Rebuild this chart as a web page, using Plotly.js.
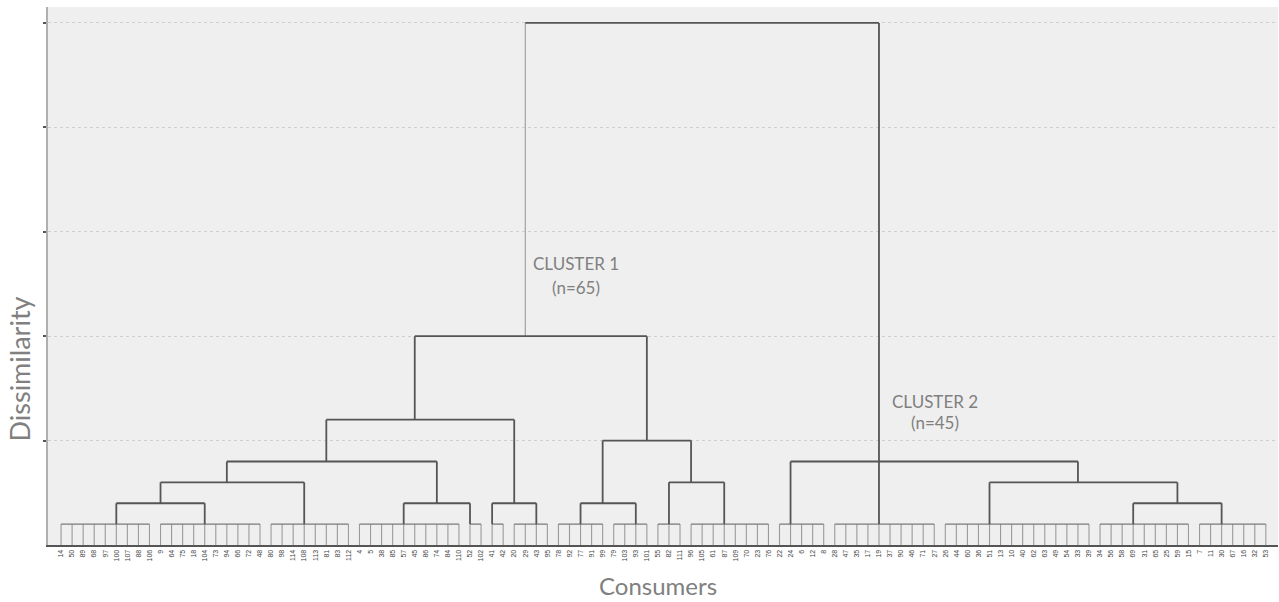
<!DOCTYPE html>
<html>
<head>
<meta charset="utf-8">
<script src="https://cdn.plot.ly/plotly-3.0.1.min.js"></script>
<style>html,body{margin:0;padding:0;background:#fff;}#chart{width:1279px;height:602px;}</style>
</head>
<body>
<div id="chart"></div>
<script>
// Leaf order (consumers) as read along the x axis
const leafLabels = [
  "14","50","89","68","97","100","107","88","106",
  "9","64","75","18","104","73","94","66","72","48",
  "80","98","114","108","113","81","83","112",
  "4","5","38","85","57","45","86","74","84","110",
  "52","102",
  "41","42",
  "20","29","43","95",
  "78","92","77","91","99",
  "79","103","93","101",
  "55","82","111",
  "96","105","61","87","109","70","23","76",
  "22","24","6","12","8",
  "28","47","35","17","19","37","90","46","71","27",
  "26","44","60","36","51","13","10","40","62","63","49","54","33","39",
  "34","56","58","69","31","65","25","59","15",
  "7","11","30","67","16","32","53"
];

// Low-level groups (collapsed at dissimilarity 0.2): number of consumers in each, in order
const groupSizes = [9,10,8,10,2,2,4,5,4,3,8,5,10,14,9,7];
// Consumer under which each group's link rises
const groupRoot  = ["100","104","108","57","52","41","43","77","93","82","87","24","19","51","69","30"];
const groupHeight = 0.2;

// Merges: children are node ids (groups 0..15, then merges 16..)
const mergeChildren = [
  [0,1],      // 16
  [16,2],     // 17
  [3,4],      // 18
  [17,18],    // 19
  [5,6],      // 20
  [19,20],    // 21
  [7,8],      // 22
  [9,10],     // 23
  [22,23],    // 24
  [21,24],    // 25  cluster 1
  [14,15],    // 26
  [13,26],    // 27
  [11,12,27], // 28  cluster 2
  [25,28]     // 29  root
];
const mergeHeights = [0.4,0.6,0.4,0.8,0.4,1.2,0.4,0.6,1.0,2.0,0.4,0.6,0.8,5.0];

const clusterNames = ["CLUSTER 1","CLUSTER 2"];
const clusterSizes = [65,45];

// ---------- build segments ----------
const nodeX = [], nodeH = [];
const leafSeg = {x:[],y:[]}, groupSeg = {x:[],y:[]}, linkSeg = {x:[],y:[]}, thinSeg = {x:[],y:[]};
function seg(s,x0,y0,x1,y1){ s.x.push(x0,x1,null); s.y.push(y0,y1,null); }

let start = 0;
groupSizes.forEach((n,g)=>{
  const end = start+n-1;
  for(let i=start;i<=end;i++) seg(leafSeg,i,0,i,groupHeight);
  seg(groupSeg,start,groupHeight,end,groupHeight);
  nodeX.push(leafLabels.indexOf(groupRoot[g]));
  nodeH.push(groupHeight);
  start = end+1;
});
mergeChildren.forEach((ch,m)=>{
  const h = mergeHeights[m];
  const xs = ch.map(c=>nodeX[c]);
  const lo = Math.min(...xs), hi = Math.max(...xs);
  const isRoot = (m===mergeChildren.length-1);
  seg(linkSeg,lo,h,hi,h);
  ch.forEach((c,k)=>{
    const target = (isRoot && k===0) ? thinSeg : linkSeg;
    seg(target,nodeX[c],nodeH[c],nodeX[c],h);
  });
  let ax;
  if(ch.length===2) ax = Math.floor((xs[0]+xs[1])/2);
  else ax = xs[1];
  nodeX.push(ax); nodeH.push(h);
});

const traces = [
  {x:leafSeg.x,y:leafSeg.y,mode:'lines',line:{color:'#9a9a9a',width:1.1},hoverinfo:'skip'},
  {x:groupSeg.x,y:groupSeg.y,mode:'lines',line:{color:'#7a7a7a',width:1.3},hoverinfo:'skip'},
  {x:thinSeg.x,y:thinSeg.y,mode:'lines',line:{color:'#9a9a9a',width:1.1},hoverinfo:'skip'},
  {x:linkSeg.x,y:linkSeg.y,mode:'lines',line:{color:'#555555',width:1.8},hoverinfo:'skip'}
];

const fam = 'Lato, "Open Sans", sans-serif';
const txt = {family:fam, size:17, color:'#808080'};
const annotations = [
  {x:46.6,y:2.70,xref:'x',yref:'y',text:clusterNames[0],showarrow:false,font:txt},
  {x:46.6,y:2.47,xref:'x',yref:'y',text:'(n='+clusterSizes[0]+')',showarrow:false,font:txt},
  {x:79.05,y:1.37,xref:'x',yref:'y',text:clusterNames[1],showarrow:false,font:txt},
  {x:79.05,y:1.17,xref:'x',yref:'y',text:'(n='+clusterSizes[1]+')',showarrow:false,font:txt},
  {x:(19-48)/1230,y:(545-369.5)/538,xref:'paper',yref:'paper',xanchor:'center',yanchor:'middle',
   text:'Dissimilarity',textangle:-90,showarrow:false,font:{family:fam,size:27,color:'#808080'}},
  {x:(658-48)/1230,y:(545-601)/538,xref:'paper',yref:'paper',xanchor:'center',yanchor:'bottom',borderpad:0,
   text:'Consumers',showarrow:false,font:{family:fam,size:24,color:'#808080'}}
];

const layout = {
  width:1279,height:602,
  margin:{l:48,r:1,t:7,b:57},
  paper_bgcolor:'#ffffff',plot_bgcolor:'#efefef',
  showlegend:false,
  xaxis:{range:[-1.18,110.1],showline:true,linecolor:'#555',linewidth:2,ticks:'',
    tickmode:'array',tickvals:leafLabels.map((_,i)=>i),ticktext:leafLabels,tickangle:-90,
    tickfont:{family:'"Liberation Sans", Arial, sans-serif',size:7,color:'#444'},
    showgrid:false,zeroline:false,automargin:false},
  yaxis:{range:[0,5.153],showline:true,linecolor:'#b0b0b0',linewidth:2,ticks:'outside',ticklen:3,tickwidth:2,tickcolor:'#555',
    tickmode:'array',tickvals:[1,2,3,4,5],showticklabels:false,
    showgrid:true,gridcolor:'#cfcfcf',griddash:'dot',gridwidth:1,zeroline:false,automargin:false},
  annotations:annotations
};
Plotly.newPlot('chart',traces,layout,{displayModeBar:false,staticPlot:true});
</script>
</body>
</html>
